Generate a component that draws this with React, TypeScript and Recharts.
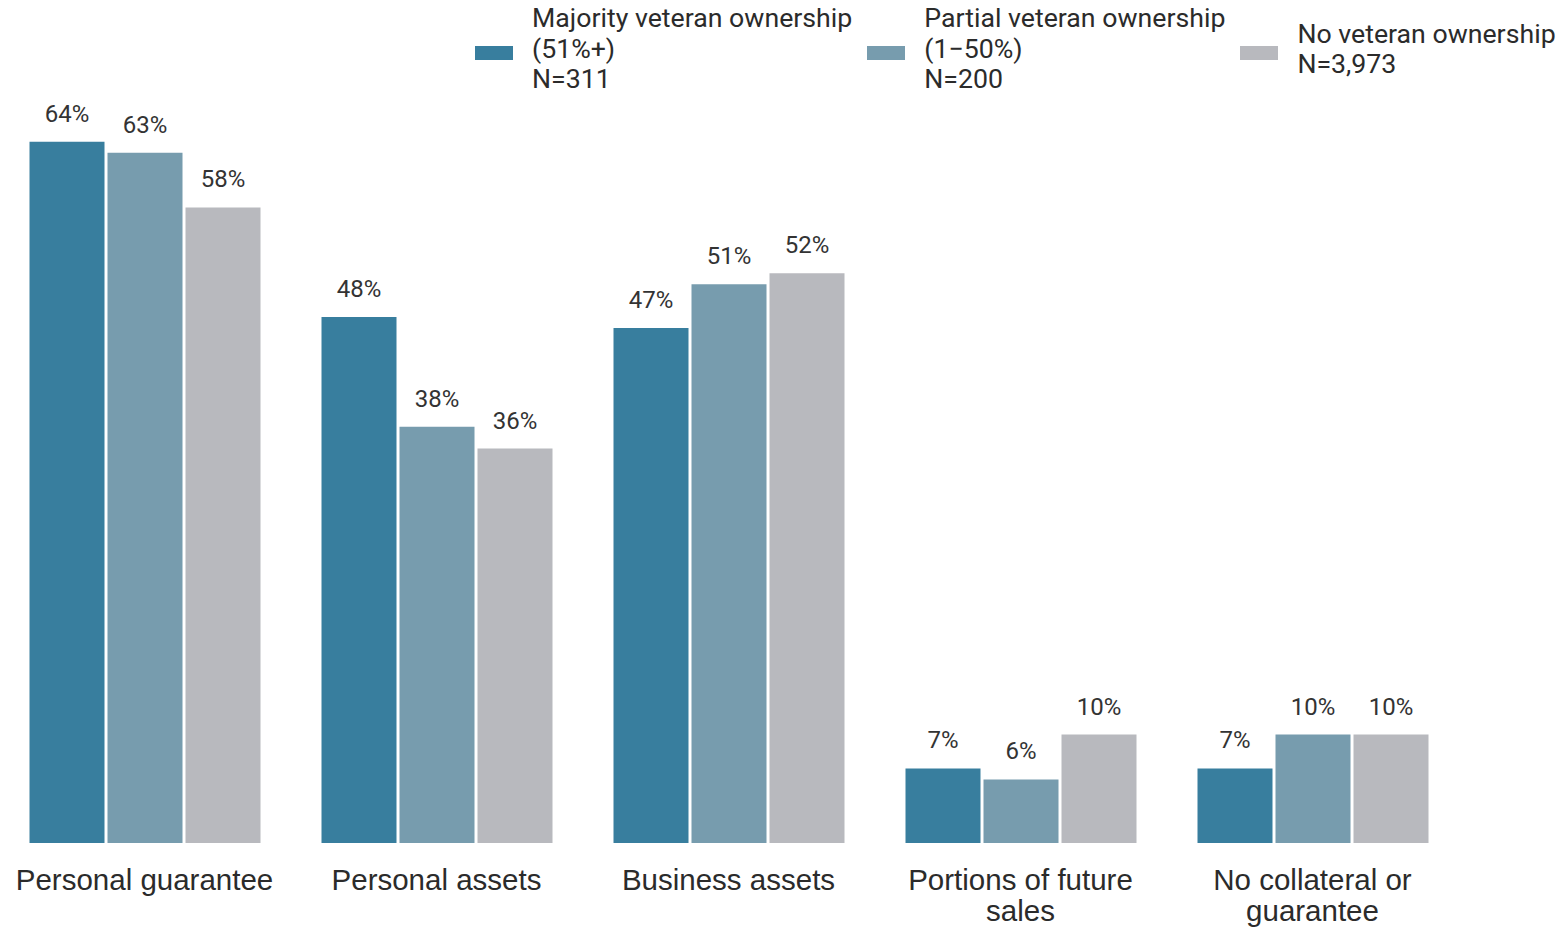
import React from 'react';
import { BarChart, Bar, XAxis, YAxis, LabelList } from 'recharts';

const categories = [
  'Personal guarantee',
  'Personal assets',
  'Business assets',
  'Portions of future sales',
  'No collateral or guarantee',
];

const majority = [64, 48, 47, 6.8, 6.8];
const partial = [63, 38, 51, 5.8, 9.9];
const none = [58, 36, 52, 9.9, 9.9];

const seriesNames = [
  ['Majority veteran ownership', '(51%+)', 'N=311'],
  ['Partial veteran ownership', '(1\u221250%)', 'N=200'],
  ['No veteran ownership', 'N=3,973'],
];
const colors = ['#387e9e', '#779cae', '#b8b9be'];

const data = categories.map((name, i) => ({
  name,
  majority: majority[i],
  partial: partial[i],
  none: none[i],
}));

// split long category names into lines
const wrap = (text: string, max = 20) => {
  const lines: string[] = [];
  let cur = '';
  text.split(' ').forEach(w => {
    if (cur && (cur + ' ' + w).length > max) {
      lines.push(cur);
      cur = w;
    } else {
      cur = cur ? cur + ' ' + w : w;
    }
  });
  if (cur) lines.push(cur);
  return lines;
};

const CategoryTick = (props: any) => {
  const { x, y, payload } = props;
  const lines = wrap(payload.value);
  return (
    <text
      x={x}
      y={y + 39}
      textAnchor="middle"
      fill="#2b2b2b"
      style={{ fontFamily: '"Liberation Sans", Arial, sans-serif', fontSize: 29.5 }}
    >
      {lines.map((l, i) => (
        <tspan key={i} x={x} dy={i === 0 ? 0 : 31}>
          {l}
        </tspan>
      ))}
    </text>
  );
};

const fmt = (v: any) => `${Math.round(Number(v))}%`;

const labelStyle = { fontFamily: 'Roboto, sans-serif', fontSize: 24, fill: '#333333' };

const App: React.FC = () => {
  return (
    <div style={{ position: 'absolute', left: 0, top: 0, width: 1563, height: 928, background: '#fff' }}>
      <div
        style={{
          position: 'absolute',
          left: 475,
          top: 3,
          display: 'flex',
          gap: 15,
          fontFamily: 'Roboto, sans-serif',
          fontSize: 26.7,
          lineHeight: '30.5px',
          color: '#2b2b2b',
          zIndex: 2,
        }}
      >
        {seriesNames.map((lines, i) => (
          <div key={i} style={{ display: 'flex', alignItems: 'center', gap: 19, height: 92 }}>
            <div style={{ width: 38, height: 14, background: colors[i], marginTop: 8 }} />
            <div style={{ whiteSpace: 'nowrap' }}>
              {lines.map((l, j) => (
                <div key={j}>{l}</div>
              ))}
            </div>
          </div>
        ))}
      </div>
      <BarChart
        width={1563}
        height={928}
        data={data}
        margin={{ top: 76, right: 104.5, bottom: 0, left: -1.5 }}
        barSize={75}
        barGap={3}
      >
        <XAxis
          dataKey="name"
          axisLine={false}
          tickLine={false}
          height={85}
          interval={0}
          tick={<CategoryTick />}
        />
        <YAxis hide domain={[0, 70]} />
        <Bar dataKey="majority" fill={colors[0]} isAnimationActive={false}>
          <LabelList dataKey="majority" position="top" offset={20} formatter={fmt} style={labelStyle} />
        </Bar>
        <Bar dataKey="partial" fill={colors[1]} isAnimationActive={false}>
          <LabelList dataKey="partial" position="top" offset={20} formatter={fmt} style={labelStyle} />
        </Bar>
        <Bar dataKey="none" fill={colors[2]} isAnimationActive={false}>
          <LabelList dataKey="none" position="top" offset={20} formatter={fmt} style={labelStyle} />
        </Bar>
      </BarChart>
    </div>
  );
};

export default App;
